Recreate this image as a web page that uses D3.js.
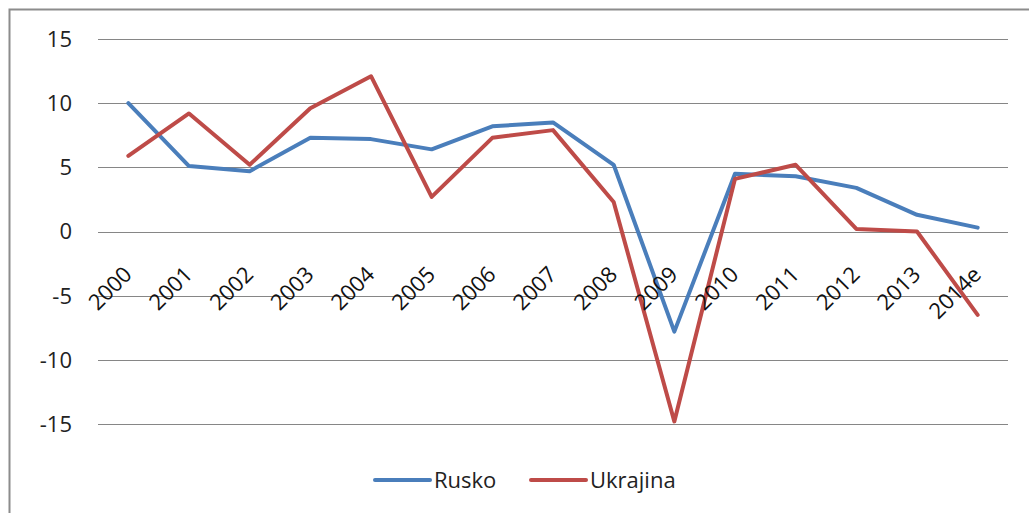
<!DOCTYPE html>
<html>
<head>
<meta charset="utf-8">
<script src="https://cdn.jsdelivr.net/npm/d3@7"></script>
<style>
  body { margin: 0; background: #fff; }
  svg { display: block; font-family: "Open Sans", "Noto Sans", sans-serif; }
</style>
</head>
<body>
<svg id="chart" width="1029" height="513"></svg>
<script>
var years = ["2000", "2001", "2002", "2003", "2004", "2005", "2006", "2007",
             "2008", "2009", "2010", "2011", "2012", "2013", "2014e"];
var rusko = [10.0, 5.1, 4.7, 7.3, 7.2, 6.4, 8.2, 8.5, 5.2, -7.8, 4.5, 4.3, 3.4, 1.3, 0.3];
var ukrajina = [5.9, 9.2, 5.2, 9.6, 12.1, 2.7, 7.3, 7.9, 2.3, -14.8, 4.1, 5.2, 0.2, 0.0, -6.5];
var yTicks = [15, 10, 5, 0, -5, -10, -15];

var series = [
  {name: "Rusko", values: rusko, color: "#4a7ebb"},
  {name: "Ukrajina", values: ukrajina, color: "#be4b48"}
];

var svg = d3.select("#chart");
var margin = {top: 39, left: 98, right: 21, bottom: 89};
var width = 1029, height = 513;

// outer chart frame (only top and left edges are visible in the picture)
svg.append("path")
  .attr("d", "M9.5,513 L9.5,9.5 L1029,9.5")
  .attr("fill", "none")
  .attr("stroke", "#8c8c8c")
  .attr("stroke-width", 2);

var x = d3.scaleBand()
  .domain(years)
  .range([margin.left, width - margin.right]);

var y = d3.scaleLinear()
  .domain([-15, 15])
  .range([424, margin.top]);

// gridlines
svg.append("g")
  .selectAll("line")
  .data(yTicks)
  .join("line")
    .attr("x1", margin.left)
    .attr("x2", width - margin.right)
    .attr("y1", function(d) { return Math.round(y(d)) + 0.5; })
    .attr("y2", function(d) { return Math.round(y(d)) + 0.5; })
    .attr("stroke", "#868686")
    .attr("stroke-width", 1);

// y axis labels
svg.append("g")
  .selectAll("text")
  .data(yTicks)
  .join("text")
    .attr("x", 72)
    .attr("y", function(d) { return y(d); })
    .attr("dy", "0.36em")
    .attr("text-anchor", "end")
    .attr("font-size", 22)
    .attr("fill", "#222")
    .text(function(d) { return d; });

var line = d3.line()
  .x(function(d, i) { return x(years[i]) + x.bandwidth() / 2; })
  .y(function(d) { return y(d); });

svg.append("g")
  .selectAll("path")
  .data(series)
  .join("path")
    .attr("d", function(s) { return line(s.values); })
    .attr("fill", "none")
    .attr("stroke", function(s) { return s.color; })
    .attr("stroke-width", 4)
    .attr("stroke-linejoin", "round")
    .attr("stroke-linecap", "round");

// rotated category labels
svg.append("g")
  .selectAll("text")
  .data(years)
  .join("text")
    .attr("transform", function(d) {
      var cx = x(d) + x.bandwidth() / 2 - 6;
      return "translate(" + cx + ",265) rotate(-45)";
    })
    .attr("text-anchor", "end")
    .attr("dy", "0.7em")
    .attr("font-size", 22)
    .attr("fill", "#111")
    .text(function(d) { return d; });

// legend
var legend = svg.append("g");
var legendX = [375, 531];
series.forEach(function(s, i) {
  var g = legend.append("g").attr("transform", "translate(" + legendX[i] + ",480)");
  g.append("line")
    .attr("x1", 0).attr("x2", 55)
    .attr("stroke", s.color)
    .attr("stroke-width", 4)
    .attr("stroke-linecap", "round");
  g.append("text")
    .attr("x", 59)
    .attr("dy", "0.36em")
    .attr("font-size", 22)
    .attr("fill", "#222")
    .text(s.name);
});
</script>
</body>
</html>
